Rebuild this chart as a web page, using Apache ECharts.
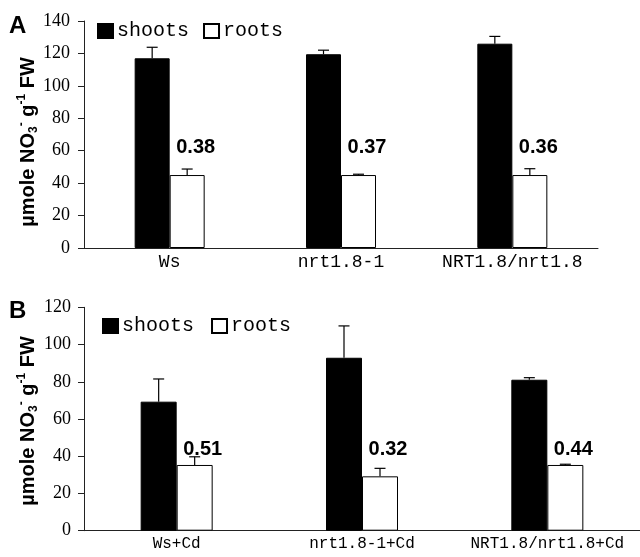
<!DOCTYPE html>
<html><head><meta charset="utf-8">
<script src="https://cdn.jsdelivr.net/npm/echarts@6/dist/echarts.min.js"></script>
<style>html,body{margin:0;padding:0;background:#fff}#c{width:640px;height:557px}</style>
</head><body><div id="c"></div>
<script>
// Panel A data
const categoriesA = ['Ws', 'nrt1.8-1', 'NRT1.8/nrt1.8'];
const shootsA = [117, 119.5, 126];
const shootsErrA = [6.8, 2.5, 4.5];
const rootsA = [45, 45, 45];
const rootsErrA = [3.7, 0.5, 3.9];
const ratiosA = ['0.38', '0.37', '0.36'];
const yTicksA = {min: 0, max: 140, interval: 20};

// Panel B data
const categoriesB = ['Ws+Cd', 'nrt1.8-1+Cd', 'NRT1.8/nrt1.8+Cd'];
const shootsB = [69.3, 92.9, 81.1];
const shootsErrB = [12.2, 17.1, 1.1];
const rootsB = [35.3, 29.2, 35.3];
const rootsErrB = [4.4, 4.3, 0.4];
const ratiosB = ['0.51', '0.32', '0.44'];
const yTicksB = {min: 0, max: 120, interval: 20};

const chart = echarts.init(document.getElementById('c'));
const AX = '#222';
const BARW = [35, 36];
const LABEL_Y = [61.7, 43.6];

function errSeries(idx, vals, errs, dir) {
  return {
    type: 'custom', xAxisIndex: idx, yAxisIndex: idx, z: 5, silent: true,
    data: vals.map((v, i) => [i, v, errs[i]]),
    encode: {x: 0, y: 1},
    renderItem: function (params, api) {
      const b = api.coord([api.value(0), api.value(1)]);
      const t = api.coord([api.value(0), api.value(1) + api.value(2)]);
      const x = b[0] + dir * BARW[idx] / 2;
      const s = {stroke: '#000', lineWidth: 1.2};
      return {type: 'group', children: [
        {type: 'line', shape: {x1: x, y1: b[1], x2: x, y2: t[1]}, style: s},
        {type: 'line', shape: {x1: x - 5.5, y1: t[1], x2: x + 5.5, y2: t[1]}, style: s}
      ]};
    }
  };
}
function labelSeries(idx, ratios) {
  return {
    type: 'scatter', xAxisIndex: idx, yAxisIndex: idx, symbolSize: 0, silent: true, z: 6,
    itemStyle: {opacity: 1},
    data: ratios.map((r, i) => [i, LABEL_Y[idx]]),
    label: {show: true, position: 'inside', offset: [26, 0], opacity: 1,
      formatter: p => ratios[p.dataIndex], textBorderWidth: 0,
      fontFamily: 'Liberation Sans, Arial', fontWeight: 'bold', fontSize: 20, color: '#000'}
  };
}
function barPair(idx, shoots, roots) {
  return [
    {name: 'shoots', type: 'bar', xAxisIndex: idx, yAxisIndex: idx, data: shoots,
      barWidth: BARW[idx], barGap: '0%', itemStyle: {color: '#000', borderColor: '#000', borderWidth: 1}},
    {name: 'roots', type: 'bar', xAxisIndex: idx, yAxisIndex: idx, data: roots,
      barWidth: BARW[idx], barGap: '0%', itemStyle: {color: '#fff', borderColor: '#000', borderWidth: 1}}
  ];
}
function yAxis(idx, t, margin) {
  return {type: 'value', gridIndex: idx, min: t.min, max: t.max, interval: t.interval,
    axisLine: {show: true, lineStyle: {color: AX, width: 1}},
    axisTick: {show: true, length: 6, lineStyle: {color: AX}},
    splitLine: {show: false},
    axisLabel: {fontFamily: 'Liberation Serif', fontSize: 18, color: '#000', margin: margin}};
}
function xAxis(idx, cats, fs) {
  return {type: 'category', gridIndex: idx, data: cats,
    axisLine: {lineStyle: {color: AX, width: 1}}, axisTick: {show: false},
    axisLabel: {interval: 0, fontFamily: 'Liberation Mono', fontSize: fs, color: '#000', margin: 5}};
}
function legend(left, top, gap) {
  return {data: ['shoots', 'roots'], left: left, top: top, padding: 0, itemGap: gap,
    itemWidth: 15, itemHeight: 14, icon: 'rect', selectedMode: false,
    textStyle: {fontFamily: 'Liberation Mono', fontSize: 20, color: '#000', padding: [0, 0, 0, -1]}};
}
const richName = {
  a: {fontFamily: 'Liberation Sans, Arial', fontWeight: 'bold', fontSize: 20, lineHeight: 24, fill: '#000'},
  sub: {fontFamily: 'Liberation Sans, Arial', fontWeight: 'bold', fontSize: 12, verticalAlign: 'bottom', fill: '#000'},
  sup: {fontFamily: 'Liberation Sans, Arial', fontWeight: 'bold', fontSize: 12, verticalAlign: 'top', fill: '#000'}
};
const nameText = '{a|\u00b5mole NO}{sub|3}{sup|-}{a| g}{sup|-1}{a| FW}';
function yName(x, y) {
  return {type: 'text', x: x, y: y, rotation: Math.PI / 2,
    style: {text: nameText, rich: richName, align: 'center', verticalAlign: 'middle'}};
}

chart.setOption({
  animation: false,
  grid: [
    {left: 84, top: 21, width: 514, height: 227},
    {left: 84, top: 307.3, width: 558, height: 223.4}
  ],
  xAxis: [xAxis(0, categoriesA, 18), xAxis(1, categoriesB, 16)],
  yAxis: [yAxis(0, yTicksA, 14), yAxis(1, yTicksB, 13)],
  legend: [legend(97, 21, 14), legend(102, 316, 17)],
  graphic: [
    {type: 'text', x: 9, y: 14, style: {text: 'A', font: 'bold 24px Liberation Sans', fill: '#000'}},
    {type: 'text', x: 9, y: 299, style: {text: 'B', font: 'bold 24px Liberation Sans', fill: '#000'}},
    yName(28, 142),
    yName(28, 421)
  ],
  series: [
    ...barPair(0, shootsA, rootsA),
    errSeries(0, shootsA, shootsErrA, -1),
    errSeries(0, rootsA, rootsErrA, 1),
    labelSeries(0, ratiosA),
    ...barPair(1, shootsB, rootsB),
    errSeries(1, shootsB, shootsErrB, -1),
    errSeries(1, rootsB, rootsErrB, 1),
    labelSeries(1, ratiosB)
  ]
});
</script></body></html>
